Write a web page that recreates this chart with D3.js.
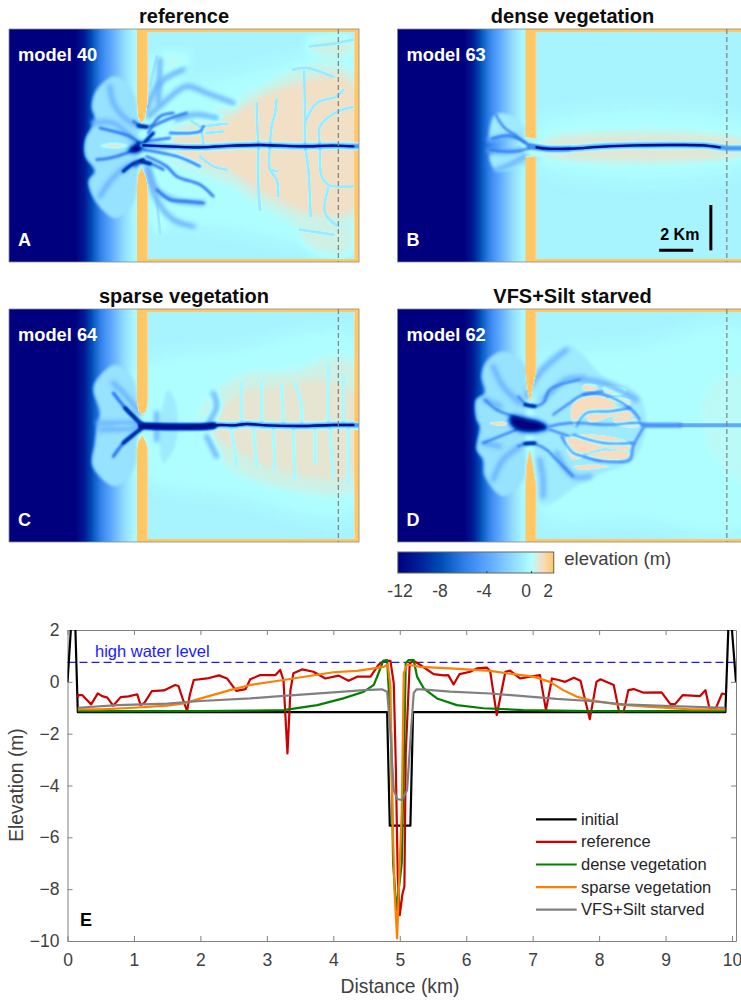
<!DOCTYPE html>
<html lang="en">
  <head>
    <meta charset="UTF-8" />
    <title>barrier basin elevation</title>
    <style>
      html, body { margin: 0; padding: 0; background: #fff; }
      svg { display: block; font-family: "Liberation Sans", Arial, sans-serif; }
    </style>
  </head>
  <body>
    <div id="wrapper"></div>
    <script src="https://d3js.org/d3.v7.min.js"></script>
    <script>
      // ---- profile data, distance (km) / elevation (m)
      const initialProfile = [[0,0],[0.07,2.8],[0.11,2.8],[0.155,-1.17],[4.81,-1.17],[4.85,-5.55],[5.16,-5.55],[5.2,-1.17],[9.9,-1.17],[9.955,2.8],[9.975,2.8],[10.06,0]];
      const referenceProfile = [[0.155,-0.6],[0.16,-0.51],[0.22,-0.51],[0.356,-0.87],[0.456,-0.445],[0.52,-0.55],[0.6,-0.61],[0.687,-0.92],[0.8,-0.59],[0.92,-0.56],[1.05,-0.48],[1.1,-0.9],[1.16,-0.8],[1.27,-0.355],[1.45,-0.33],[1.62,-0.12],[1.67,-0.16],[1.74,-0.7],[1.8,-1.13],[1.84,-0.51],[1.9,0.07],[2.1,0.13],[2.28,0.25],[2.4,0.13],[2.54,-0.35],[2.68,-0.28],[2.75,0.1],[2.9,0.26],[3.13,0.26],[3.2,0.46],[3.25,0.07],[3.31,-2.76],[3.355,-0.32],[3.4,0.33],[3.53,0.48],[3.7,0.39],[3.88,0.13],[4.08,0.24],[4.23,0.04],[4.36,0.2],[4.56,0.2],[4.68,0.65],[4.76,0.81],[4.86,0.81],[4.91,-0.06],[4.94,-3.15],[4.97,-7.5],[5.0,-9.0],[5.04,-8.2],[5.07,-7.9],[5.09,-2.76],[5.15,0.71],[5.21,0.81],[5.31,0.65],[5.51,0.3],[5.66,0.25],[5.73,0.26],[5.81,-0.1],[5.9,0.3],[6.06,0.39],[6.16,0.52],[6.31,0.55],[6.36,0.42],[6.46,-1.28],[6.59,0.39],[6.66,0.43],[6.81,0.13],[6.96,0.2],[7.11,0.26],[7.2,-1.09],[7.29,0.13],[7.39,0.07],[7.49,0],[7.62,0.16],[7.72,0.04],[7.86,-1.44],[7.96,0],[8.02,0.1],[8.22,-0.12],[8.3,-1.15],[8.37,-1.15],[8.44,-0.32],[8.52,-0.28],[8.67,-0.42],[8.94,-0.41],[9.07,-0.85],[9.14,-0.87],[9.26,-0.51],[9.52,-0.55],[9.6,-0.32],[9.66,-1.02],[9.75,-1.06],[9.85,-0.45],[9.9,-0.48]];
      const denseProfile = [[0.155,-1.13],[2.0,-1.13],[2.75,-1.11],[3.25,-1.09],[3.76,-0.9],[4.15,-0.64],[4.46,-0.38],[4.61,-0.12],[4.68,0.33],[4.75,0.81],[4.81,0.84],[4.87,-2],[4.9,-7],[4.95,-8.8],[5.03,-7],[5.07,-2],[5.09,0.71],[5.13,0.84],[5.21,0.84],[5.26,0.2],[5.36,-0.25],[5.56,-0.64],[5.86,-0.9],[6.26,-1.02],[6.86,-1.09],[7.86,-1.13],[9.9,-1.13]];
      const sparseProfile = [[0.155,-1.06],[0.5,-1.06],[1.0,-1.0],[1.5,-0.92],[1.75,-0.83],[2.1,-0.57],[2.5,-0.28],[2.75,-0.12],[3.25,0.07],[4.0,0.37],[4.36,0.42],[4.76,0.58],[4.82,0.67],[4.86,-0.19],[4.89,-5],[4.92,-8],[4.96,-9.9],[5.0,-7],[5.03,-5],[5.06,0.33],[5.11,0.67],[5.31,0.58],[5.76,0.52],[6.36,0.42],[6.61,0.33],[7.01,0.2],[7.26,0],[7.46,-0.32],[7.66,-0.57],[7.86,-0.7],[8.27,-0.87],[8.72,-0.96],[9.38,-1.06],[9.9,-1.06]];
      const starvedProfile = [[0.155,-1.0],[0.75,-0.9],[1.5,-0.84],[2.0,-0.74],[2.75,-0.64],[3.25,-0.54],[4.0,-0.41],[4.46,-0.32],[4.73,-0.29],[4.81,-0.38],[4.85,-1.6],[4.91,-4.18],[4.96,-4.52],[5.03,-4.56],[5.11,-4.18],[5.17,-1.86],[5.21,-0.44],[5.25,-0.29],[5.33,-0.29],[5.76,-0.38],[6.36,-0.45],[6.86,-0.55],[7.36,-0.66],[7.86,-0.74],[8.37,-0.87],[8.87,-0.92],[9.9,-1.0]];
      const highWaterLevel = 0.75;
      const xTicks = [0,1,2,3,4,5,6,7,8,9,10];
      const yTicks = [2,0,-2,-4,-6,-8,-10];
      const legendLabels = ["initial","reference","dense vegetation","sparse vegetation","VFS+Silt starved"];

      // ---- colour map, elevation (m) -> colour
      const cmapElev = [-12,-10,-8,-6,-4,-2,0,1,2];
      const cmapColor = ["#00007f","#00209a","#0050b8","#2f7fe8","#5aa5ff","#88d2ff","#b0ffff","#f8dcc0","#ffc864"];
      const cbarTicks = [-12,-8,-4,0,2];

      // ---- map data: points are model grid cells [col,row], rows 88-787, 1050 cols wide
      const seaCols = [225,250,280,310,340,370,395,411];
      const seaElev = [-12,-10.5,-7.5,-5.2,-3.4,-1.6,-0.5,-0.1];

      const flatsA = [[[416,300],[700,230],[1063,170],[1063,720],[700,690],[416,620]]];
      const marshFaintA = [[[455,170],[570,165],[530,250],[470,265]],[[460,600],[500,640],[490,700],[460,680]]];
      const marshLowA = [
        [[500,395],[600,350],[680,320],[770,270],[910,200],[1010,190],[1063,220],[1063,660],[1000,690],[920,700],[850,650],[770,610],[700,560],[620,525],[500,470]],
        [[920,125],[1060,115],[1060,165],[930,160]],
        [[900,690],[1050,680],[1050,765],[930,750]]
      ];
      const marshHighA = [
        [[525,405],[600,380],[680,360],[770,300],[910,245],[1010,225],[1060,260],[1060,630],[1000,650],[920,640],[850,610],[770,570],[700,520],[620,500],[525,460]]
      ];
      const pocketsA = [];
      const creeksA = [
        [[770,310],[772,380],[775,435]],[[775,440],[775,560],[780,630]],
        [[830,300],[825,340],[815,380],[810,435]],[[810,440],[810,510],[830,540],[835,590]],[[810,510],[830,515]],
        [[912,215],[915,330],[915,435]],[[915,440],[925,510],[932,650]],
        [[1060,322],[1015,335],[960,380],[960,435]],[[960,445],[965,530],[985,555],[1060,560]],
        [[915,370],[950,310],[1010,290],[1030,270]],[[985,565],[975,640],[1015,680]],
        [[880,210],[920,205],[1000,232]],[[930,140],[1010,130],[1060,120]],[[900,690],[1000,705]],
        [[605,395],[610,430]],[[610,380],[680,372]],[[680,510],[640,500],[600,470]],[[620,400],[670,395]],
        [[470,600],[480,700]],[[470,170],[450,260]],[[600,380],[575,365]]
      ];
      const lobesA = [[[345,230],[290,270],[275,320],[285,360],[255,420],[255,470],[285,515],[265,545],[290,610],[345,655],[395,620],[411,560],[411,320],[395,270]]];
      const paleA = [];
      const ribsLightA = [
        [[420,380],[380,360],[340,310],[330,260]],[[400,420],[340,370],[280,370]],
        [[415,490],[380,500],[330,545],[300,590]],[[440,330],[480,250],[550,210]],
        [[445,350],[490,310],[560,260],[620,280],[700,310]],[[445,510],[470,600],[520,660],[580,680]],
        [[530,360],[580,345],[650,355]],[[440,495],[470,570],[520,600],[610,610]],[[475,310],[480,180]]
      ];
      const ribsA = [
        [[425,437],[390,410],[340,395],[300,385]],[[425,437],[380,460],[330,475],[290,480]],
        [[400,365],[425,380],[460,378],[500,360],[560,340]],[[405,500],[425,487],[460,495],[490,510]],
        [[440,470],[500,500],[530,530],[600,555],[640,590]],[[445,400],[480,350],[520,340]],
        [[432,450],[530,470],[600,500]],[[510,400],[600,395],[610,380]],[[440,425],[510,415]],
        [[470,570],[510,600],[560,605],[610,610]]
      ];
      const deepA = [[[385,452],[425,425],[428,450],[400,460]]];
      const deepRibsA = [[[425,437],[460,400]],[[430,480],[395,495],[370,515]],[[425,485],[450,492]],[[415,378],[440,382]]];
      const shoalA = [[[300,438],[340,430],[388,438],[340,446]]];
      const mainA = [[[425,437],[520,441],[600,443],[700,438],[780,436],[900,440],[1000,438],[1078,440]]];
      const coreA = [[[430,437],[520,441],[600,443],[700,438],[780,436],[900,440],[1000,438],[1060,440]]];
      const thickA = [];

      const flatsB = [[[499,375],[1134,375],[1134,495],[499,495]]];
      const marshFaintB = [];
      const marshLowB = [[[490,425],[1134,424],[1134,461],[490,461]]];
      const marshHighB = [[[530,433],[1134,431],[1134,455],[530,455]]];
      const pocketsB = [];
      const creeksB = [];
      const lobesB = [];
      const paleB = [
        [[375,345],[420,345],[466,385],[466,420],[520,410],[530,420],[500,430],[440,412],[380,415],[360,420]],
        [[360,465],[440,455],[466,470],[520,470],[510,482],[466,500],[400,515],[375,510]]
      ];
      const ribsLightB = [[[360,420],[400,412],[440,410]],[[360,455],[400,458],[450,450]],[[380,510],[420,495],[466,470]]];
      const ribsB = [[[480,440],[440,410],[400,380],[378,345]],[[470,430],[420,408],[365,418]],[[480,445],[440,455],[400,455],[360,450]]];
      const deepB = [];
      const deepRibsB = [[[480,440],[530,447],[600,447]]];
      const shoalB = [];
      const mainB = [[[480,440],[530,447],[600,447],[700,440],[800,437],[900,436],[1000,437],[1070,445],[1134,445]]];
      const coreB = [[[500,443],[530,447],[600,447],[700,441],[800,437],[900,436],[1000,437],[1050,443]]];
      const thickB = [];

      const flatsC = [[[416,270],[700,210],[1063,170],[1063,700],[700,650],[416,580]]];
      const marshFaintC = [];
      const marshLowC = [[[610,380],[720,290],[900,270],[980,235],[1063,250],[1063,630],[900,635],[700,570],[610,470]]];
      const marshHighC = [[[650,420],[720,340],[830,320],[960,300],[1060,340],[1060,580],[900,590],[760,540],[650,470]]];
      const pocketsC = [];
      const creeksC = [
        [[725,310],[725,430]],[[785,305],[785,430]],[[845,320],[850,430]],[[885,310],[905,380],[905,430]],[[985,250],[985,430]],[[1030,290],[1030,430]],
        [[695,450],[710,560]],[[760,450],[770,560]],[[820,450],[825,570]],[[880,450],[885,600]],[[945,450],[945,550]],[[990,450],[1000,590]],[[1045,450],[1045,610]]
      ];
      const lobesC = [[[345,255],[290,300],[280,330],[300,400],[292,437],[285,490],[278,560],[345,620],[400,570],[411,490],[411,380],[400,300]]];
      const paleC = [[[505,330],[530,380],[525,500],[490,550],[480,440]]];
      const ribsLightC = [[[295,430],[410,430]],[[300,450],[410,445]],[[420,400],[380,350],[340,310]],[[640,340],[650,380],[625,430]],[[650,530],[620,470]],[[470,400],[470,480]]];
      const ribsC = [[[425,430],[385,395],[340,340]],[[420,450],[380,480],[340,530]]];
      const deepC = [];
      const deepRibsC = [[[425,437],[395,405],[375,385]],[[425,445],[395,470],[370,490]]];
      const shoalC = [[[340,438],[380,430],[402,438],[380,446]]];
      const mainC = [[[425,437],[500,441],[600,441],[660,436],[700,437],[740,433],[800,437],[900,439],[1000,436],[1078,436]]];
      const coreC = [[[425,439],[500,441],[600,441],[660,436],[700,437],[740,433],[800,437],[900,439],[1000,436],[1060,436]]];
      const thickC = [[[425,439],[500,441],[600,441],[640,438]]];

      const flatsD = [[[510,250],[800,200],[1134,150],[1134,740],[800,720],[510,700]]];
      const marshFaintD = [[[1010,330],[1134,280],[1134,610],[1040,540],[1000,440]],[[530,660],[545,680],[525,690]]];
      const marshLowD = [];
      const marshHighD = [];
      const pocketsD = [
        [[640,315],[680,315],[680,330],[640,330]],[[700,320],[770,330],[760,345],[700,335]],
        [[610,370],[650,350],[700,350],[740,380],[700,395],[650,410],[620,440],[605,420]],
        [[715,355],[780,360],[780,375],[740,370]],[[650,410],[700,390],[760,385],[790,410],[730,410],[660,430]],
        [[730,415],[800,420],[810,440],[740,435]],[[610,470],[680,465],[780,490],[780,510],[700,505],[640,520],[610,500]],
        [[590,470],[605,470],[640,530],[610,540],[590,510]],[[650,530],[700,515],[780,520],[770,535],[700,540]],
        [[610,560],[680,555],[720,560],[630,570]],[[360,430],[410,428],[410,436],[370,436]]
      ];
      const creeksD = [];
      const lobesD = [[[400,215],[350,245],[335,290],[345,340],[318,360],[320,420],[330,440],[320,510],[340,540],[345,590],[400,650],[460,600],[467,500],[467,380],[467,260]]];
      const paleD = [[[505,260],[600,200],[700,290],[800,340],[830,430],[790,540],[700,580],[620,620],[520,680],[500,600],[499,270]]];
      const ribsLightD = [
        [[450,370],[400,320],[370,260]],[[470,350],[510,280],[590,210]],[[520,360],[590,300],[640,295]],[[450,500],[400,540],[370,600]],
        [[510,540],[520,600],[520,650]],[[560,520],[610,590],[660,590]],[[640,300],[700,310],[800,360]],[[345,360],[390,380]],[[340,490],[390,500]]
      ];
      const ribsD = [
        [[540,440],[600,430],[720,435],[810,430],[825,437]],[[550,405],[600,370],[640,345],[700,345],[780,385],[810,420]],
        [[640,345],[700,335]],[[620,440],[650,400],[720,395],[780,385]],[[575,470],[610,520],[640,530],[700,545],[780,540],[790,500],[820,445]],
        [[610,465],[700,490],[790,490]],[[540,450],[600,470]],[[445,350],[480,380],[520,370],[540,330],[630,300]],
        [[445,500],[480,490],[530,510],[560,540],[610,590]],[[480,437],[430,410],[380,390],[345,360]],[[440,450],[390,470],[340,490]]
      ];
      const deepD = [[[420,410],[470,415],[520,430],[535,445],[490,458],[440,450],[420,430]]];
      const deepRibsD = [[[465,375],[495,380]],[[465,492],[495,490]]];
      const shoalD = [];
      const mainD = [[[820,437],[930,437]]];
      const coreD = [];
      const thickD = [];
      const paleChannelD = [[[930,437],[1134,437]]];

      // barrier outline per panel, in the grid of panel A (the others are shifted by colStart)
      const barrierTopA = [[411,88],[411,310],[414,350],[425,373],[436,350],[443,310],[443,88]];
      const barrierBotA = [[425,502],[413,530],[411,560],[411,787],[443,787],[443,560],[437,530]];
      const barrierTopB = [[411,88],[411,412],[430,415],[443,418],[443,88]];
      const barrierBotB = [[411,470],[430,472],[443,468],[443,787],[411,787]];
      const barrierTopC = [[411,88],[411,370],[416,395],[427,405],[438,395],[443,370],[443,88]];
      const barrierBotC = [[427,468],[414,488],[411,510],[411,787],[443,787],[443,510],[438,488]];
      const barrierTopD = [[411,88],[411,280],[416,330],[424,372],[432,330],[443,280],[443,88]];
      const barrierBotD = [[424,508],[413,560],[411,620],[411,787],[443,787],[443,620],[434,560]];

      const panels = [
        {id:"A",title:"reference",model:"model 40",left:9,top:29,colStart:27,flats:flatsA,faint:marshFaintA,marshLow:marshLowA,marshHigh:marshHighA,pockets:pocketsA,creeks:creeksA,lobes:lobesA,pale:paleA,ribsLight:ribsLightA,ribs:ribsA,deep:deepA,deepRibs:deepRibsA,shoal:shoalA,main:mainA,core:coreA,thick:thickA,paleChannel:[],barrier:[barrierTopA,barrierBotA]},
        {id:"B",title:"dense vegetation",model:"model 63",left:397.5,top:29,colStart:83,flats:flatsB,faint:marshFaintB,marshLow:marshLowB,marshHigh:marshHighB,pockets:pocketsB,creeks:creeksB,lobes:lobesB,pale:paleB,ribsLight:ribsLightB,ribs:ribsB,deep:deepB,deepRibs:deepRibsB,shoal:shoalB,main:mainB,core:coreB,thick:thickB,paleChannel:[],barrier:[barrierTopB,barrierBotB]},
        {id:"C",title:"sparse vegetation",model:"model 64",left:9,top:309,colStart:27,flats:flatsC,faint:marshFaintC,marshLow:marshLowC,marshHigh:marshHighC,pockets:pocketsC,creeks:creeksC,lobes:lobesC,pale:paleC,ribsLight:ribsLightC,ribs:ribsC,deep:deepC,deepRibs:deepRibsC,shoal:shoalC,main:mainC,core:coreC,thick:thickC,paleChannel:[],barrier:[barrierTopC,barrierBotC]},
        {id:"D",title:"VFS+Silt starved",model:"model 62",left:397.5,top:309,colStart:83,flats:flatsD,faint:marshFaintD,marshLow:marshLowD,marshHigh:marshHighD,pockets:pocketsD,creeks:creeksD,lobes:lobesD,pale:paleD,ribsLight:ribsLightD,ribs:ribsD,deep:deepD,deepRibs:deepRibsD,shoal:shoalD,main:mainD,core:coreD,thick:thickD,paleChannel:paleChannelD,barrier:[barrierTopD,barrierBotD]}
      ];

      // how each panel's layers are painted: marsh level, creek level/width/blur, rib width
      const panelLook = {
        A: {marsh:0.9, creekElev:-1.0, creekW:2.8, ribW:2.6},
        B: {marsh:0.7, creekElev:-0.7, creekW:2.4, ribW:2.0},
        C: {marsh:0.72, creekElev:-0.25, creekW:3.4, ribW:3.0},
        D: {marsh:1.0, creekElev:-0.7, creekW:2.4, ribW:1.9}
      };

      const colormap = d3.scaleLinear().domain(cmapElev).range(cmapColor).clamp(true);
      const MAP_W = 350, MAP_H = 233;
      const toGray = d3.scaleLinear().domain([-12, 2]).range([0, 255]).clamp(true);
      const lut = d3.range(256).map(function (v) { return d3.rgb(colormap(toGray.invert(v))); });

      const svg = d3.select("#wrapper").append("svg").attr("width", 741).attr("height", 1000);

      // paints elevation as gray, then recolours the pixels with the colour map
      function drawField(p) {
        const look = panelLook[p.id];
        const canvas = document.createElement("canvas");
        canvas.width = MAP_W; canvas.height = MAP_H;
        const ctx = canvas.getContext("2d");
        const shift = p.colStart - 27;
        const mapX = d3.scaleLinear().domain([p.colStart, p.colStart + 1050]).range([0, MAP_W]);
        const mapY = d3.scaleLinear().domain([88, 787]).range([0, MAP_H]);
        const gray = function (e) { const v = Math.round(toGray(e)); return "rgb(" + v + "," + v + "," + v + ")"; };
        const closed = d3.line().x(function (d) { return mapX(d[0]); }).y(function (d) { return mapY(d[1]); }).curve(d3.curveCatmullRomClosed.alpha(0.5)).context(ctx);
        const open = d3.line().x(function (d) { return mapX(d[0]); }).y(function (d) { return mapY(d[1]); }).curve(d3.curveCatmullRom.alpha(0.5)).context(ctx);
        const straight = d3.line().x(function (d) { return mapX(d[0] + shift); }).y(function (d) { return mapY(d[1]); }).context(ctx);

        function fillAll(list, e, blur) {
          ctx.filter = blur ? "blur(" + blur + "px)" : "none";
          ctx.fillStyle = gray(e);
          list.forEach(function (pts) { ctx.beginPath(); closed(pts); ctx.fill(); });
        }
        function strokeAll(list, e, w, blur) {
          ctx.filter = blur ? "blur(" + blur + "px)" : "none";
          ctx.strokeStyle = gray(e); ctx.lineWidth = w; ctx.lineCap = "round"; ctx.lineJoin = "round";
          list.forEach(function (pts) { ctx.beginPath(); open(pts); ctx.stroke(); });
        }

        // open sea, deepening away from the barrier
        const sea = d3.scaleLinear().domain(seaCols).range(seaElev).clamp(true);
        for (let i = 0; i < MAP_W; i++) {
          ctx.fillStyle = gray(sea(mapX.invert(i) - shift));
          ctx.fillRect(i, 0, 1, MAP_H);
        }
        // basin behind the barrier
        ctx.fillStyle = gray(-0.45);
        ctx.fillRect(mapX(416 + shift), 0, MAP_W, MAP_H);

        fillAll(p.flats, -0.05, 9);
        fillAll(p.lobes, -1.3, 1.5);
        fillAll(p.pale, -0.9, 1.5);
        fillAll(p.faint, 0.15, 5);
        fillAll(p.marshLow, 0.4, 5);
        fillAll(p.marshHigh, look.marsh, 3.5);
        fillAll(p.pockets, look.marsh, 0.7);
        strokeAll(p.creeks, look.creekElev, look.creekW, 0.6);
        fillAll(p.shoal, 0.6, 0.8);
        strokeAll(p.ribsLight, -3.4, 5, 2.2);
        strokeAll(p.ribs, -6.5, look.ribW, 1.1);
        fillAll(p.deep, -12, 2);
        strokeAll(p.deepRibs, -10, 3.5, 1.3);
        strokeAll(p.paleChannel, -3.8, 4, 0.5);
        strokeAll(p.main, -5, 5, 1);
        strokeAll(p.thick, -11, 7, 1);
        strokeAll(p.core, -11, 2.4, 0.6);

        // barrier, edge strips and the side of the basin
        ctx.filter = "blur(0.4px)";
        ctx.fillStyle = gray(2);
        p.barrier.forEach(function (pts) { ctx.beginPath(); straight(pts); ctx.closePath(); ctx.fill(); });
        ctx.fillRect(mapX(411 + shift), mapY(88), MAP_W, mapY(97) - mapY(88));
        ctx.fillRect(mapX(411 + shift), mapY(778), MAP_W, mapY(787) - mapY(778));
        ctx.fillRect(mapX(1063 + shift), mapY(88), mapX(1080) - mapX(1063), mapY(428) - mapY(88));
        ctx.fillRect(mapX(1063 + shift), mapY(452), mapX(1080) - mapX(1063), mapY(787) - mapY(452));
        ctx.filter = "none";

        const img = ctx.getImageData(0, 0, MAP_W, MAP_H);
        for (let k = 0; k < img.data.length; k += 4) {
          const c = lut[img.data[k]];
          img.data[k] = c.r; img.data[k + 1] = c.g; img.data[k + 2] = c.b; img.data[k + 3] = 255;
        }
        ctx.putImageData(img, 0, 0);
        return canvas.toDataURL();
      }

      panels.forEach(function (p) {
        const g = svg.append("g").attr("transform", "translate(" + p.left + "," + p.top + ")");
        const mapX = d3.scaleLinear().domain([p.colStart, p.colStart + 1050]).range([0, MAP_W]);
        const mapY = d3.scaleLinear().domain([88, 787]).range([0, MAP_H]);
        g.append("image").attr("href", drawField(p)).attr("width", MAP_W).attr("height", MAP_H);
        g.append("rect").attr("width", MAP_W).attr("height", MAP_H).attr("fill", "none").attr("stroke", "#8a8a8a").attr("stroke-width", 0.8);
        const dashCol = 988 + p.colStart;
        g.append("line").attr("x1", mapX(dashCol)).attr("x2", mapX(dashCol)).attr("y1", 0).attr("y2", MAP_H)
          .attr("stroke", "#808080").attr("stroke-width", 1.2).attr("stroke-dasharray", "5,3");
        g.append("text").attr("x", MAP_W / 2).attr("y", -6).attr("text-anchor", "middle")
          .attr("font-weight", "bold").attr("font-size", 20).attr("fill", "#0d0d0d").text(p.title);
        g.append("text").attr("x", 9).attr("y", 32).attr("font-weight", "bold").attr("font-size", 18.3).attr("fill", "#fff").text(p.model);
        g.append("text").attr("x", 9).attr("y", 217).attr("font-weight", "bold").attr("font-size", 18).attr("fill", "#fff").text(p.id);
        if (p.id === "B") {
          // scale bars, 2 km each way
          const kmCols = 51, kmRows = 68;
          const x0 = 868, y0 = 752;
          g.append("line").attr("x1", mapX(x0)).attr("x2", mapX(x0 + 2 * kmCols)).attr("y1", mapY(y0)).attr("y2", mapY(y0)).attr("stroke", "#000").attr("stroke-width", 3);
          g.append("line").attr("x1", mapX(1023)).attr("x2", mapX(1023)).attr("y1", mapY(y0)).attr("y2", mapY(y0 - 2 * kmRows)).attr("stroke", "#000").attr("stroke-width", 3);
          g.append("text").attr("x", mapX(930)).attr("y", mapY(722)).attr("text-anchor", "middle").attr("font-weight", "bold").attr("font-size", 16).attr("fill", "#000").text("2 Km");
        }
      });

      // ---- colour bar
      const cbarX = d3.scaleLinear().domain([-12, 2]).range([397.8, 553.7]);
      const cbar = svg.append("g");
      d3.range(398, 554).forEach(function (px) {
        cbar.append("rect").attr("x", px).attr("y", 552).attr("width", 1.2).attr("height", 21).attr("fill", colormap(cbarX.invert(px + 0.5)));
      });
      cbar.append("rect").attr("x", 397.8).attr("y", 552).attr("width", 155.9).attr("height", 21).attr("fill", "none").attr("stroke", "#666").attr("stroke-width", 1);
      cbarTicks.slice(1, 4).forEach(function (t) {
        cbar.append("line").attr("x1", cbarX(t)).attr("x2", cbarX(t)).attr("y1", 573).attr("y2", 571).attr("stroke", "#444");
      });
      const cbarLabelX = { "-12": 400, "-8": 440, "-4": 484, "0": 526, "2": 548 };
      cbarTicks.forEach(function (t) {
        cbar.append("text").attr("x", cbarLabelX[t]).attr("y", 596.5).attr("text-anchor", "middle").attr("font-size", 17.5).attr("fill", "#404040").text(t);
      });
      cbar.append("text").attr("x", 564.3).attr("y", 565).attr("font-size", 18.5).attr("fill", "#404040").text("elevation (m)");

      // ---- profile plot
      const x = d3.scaleLinear().domain([0, 10.06]).range([67.5, 736]);
      const y = d3.scaleLinear().domain([-10, 2]).range([941, 630]);
      const plot = svg.append("g");
      plot.append("clipPath").attr("id", "clip").append("rect").attr("x", x(0)).attr("y", y(2)).attr("width", x(10.06) - x(0)).attr("height", y(-10) - y(2));

      function styleAxis(g) {
        g.selectAll("path.domain").attr("stroke", "#808080").attr("stroke-width", 1);
        g.selectAll(".tick line").attr("stroke", "#808080").attr("stroke-width", 1);
        g.selectAll("text").attr("font-size", 17.5).attr("fill", "#404040").attr("font-family", "Liberation Sans, Arial, sans-serif");
      }
      plot.append("g").attr("transform", "translate(0," + y(-10) + ")")
        .call(d3.axisBottom(x).tickValues(xTicks).tickSize(-5).tickPadding(12.5).tickSizeOuter(0).tickFormat(d3.format("d"))).call(styleAxis);
      plot.append("g").attr("transform", "translate(0," + y(2) + ")")
        .call(d3.axisTop(x).tickValues(xTicks).tickSize(-5).tickSizeOuter(0).tickFormat("")).call(styleAxis);
      plot.append("g").attr("transform", "translate(" + x(0) + ",0)")
        .call(d3.axisLeft(y).tickValues(yTicks).tickSize(-5).tickPadding(8).tickSizeOuter(0).tickFormat(d3.format("d"))).call(styleAxis);
      plot.append("g").attr("transform", "translate(" + x(10.06) + ",0)")
        .call(d3.axisRight(y).tickValues(yTicks).tickSize(-5).tickSizeOuter(0).tickFormat("")).call(styleAxis);

      plot.append("line").attr("x1", x(0)).attr("x2", x(10.06)).attr("y1", y(highWaterLevel)).attr("y2", y(highWaterLevel))
        .attr("stroke", "#1a1aff").attr("stroke-width", 1.3).attr("stroke-dasharray", "8,4");
      plot.append("text").attr("x", 95).attr("y", 656.7).attr("font-size", 16.5).attr("fill", "#1a1aff").text("high water level");

      const seriesList = [initialProfile, referenceProfile, denseProfile, sparseProfile, starvedProfile];
      const seriesColor = ["#000000", "#cc0000", "#008000", "#ff8000", "#808080"];
      const line = d3.line().x(function (d) { return x(d[0]); }).y(function (d) { return y(d[1]); });
      const lines = plot.append("g").attr("clip-path", "url(#clip)");
      seriesList.forEach(function (s, i) {
        lines.append("path").attr("d", line(s)).attr("fill", "none").attr("stroke", seriesColor[i]).attr("stroke-width", 2.2).attr("stroke-linejoin", "round");
      });

      legendLabels.forEach(function (label, i) {
        const ly = 819.3 + i * 22.6;
        plot.append("line").attr("x1", 536).attr("x2", 576.7).attr("y1", ly).attr("y2", ly).attr("stroke", seriesColor[i]).attr("stroke-width", 2.2);
        plot.append("text").attr("x", 581).attr("y", ly + 5.5).attr("font-size", 16.5).attr("fill", "#262626").text(label);
      });

      plot.append("text").attr("x", 80).attr("y", 926).attr("font-weight", "bold").attr("font-size", 18).attr("fill", "#000").text("E");
      plot.append("text").attr("x", 400).attr("y", 993).attr("text-anchor", "middle").attr("font-size", 19.3).attr("fill", "#404040").text("Distance (km)");
      plot.append("text").attr("transform", "translate(23,785) rotate(-90)").attr("text-anchor", "middle").attr("font-size", 19.3).attr("fill", "#404040").text("Elevation (m)");
    </script>
  </body>
</html>
